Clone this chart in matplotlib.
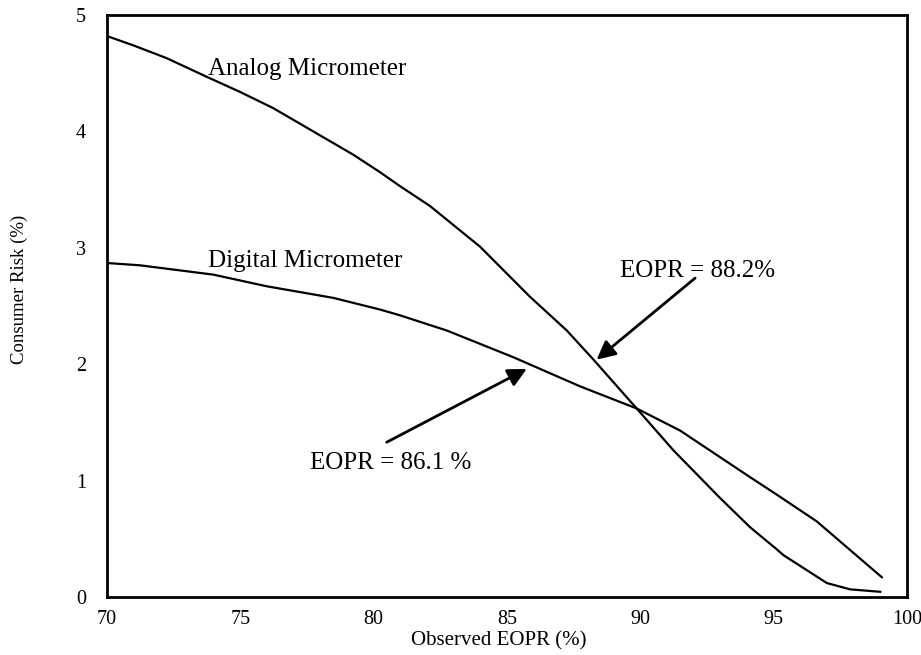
import matplotlib
matplotlib.use('Agg')
import matplotlib.pyplot as plt

plt.rcParams['font.family'] = ['Liberation Serif', 'DejaVu Serif']

# Observed EOPR (%) vs consumer risk (%)
analog_x = [70.0, 70.99, 72.24, 73.74, 74.99, 76.24, 77.74, 79.24, 80.24, 80.99,
            82.11, 83.99, 85.86, 87.24, 88.24, 89.86, 91.24, 92.99, 94.11, 95.11,
            95.36, 96.99, 97.86, 98.99]
analog_y = [4.82, 4.74, 4.63, 4.47, 4.34, 4.20, 4.00, 3.80, 3.65, 3.53,
            3.36, 3.01, 2.58, 2.29, 2.04, 1.62, 1.26, 0.85, 0.60, 0.41,
            0.36, 0.12, 0.066, 0.045]

digital_x = [70.0, 71.24, 73.99, 75.99, 78.49, 80.24, 80.99, 82.74, 85.24, 87.74,
             89.86, 91.49, 94.11, 95.11, 96.61, 99.05]
digital_y = [2.87, 2.85, 2.77, 2.67, 2.57, 2.47, 2.42, 2.29, 2.06, 1.81,
             1.62, 1.43, 1.03, 0.88, 0.65, 0.17]

x_ticks = [70, 75, 80, 85, 90, 95, 100]
y_ticks = [0, 1, 2, 3, 4, 5]

fig = plt.figure(figsize=(9.21, 6.55), dpi=100)
ax = fig.add_axes([0.116, 0.0885, 0.869, 0.8885])

ax.plot(analog_x, analog_y, color='black', linewidth=1.6)
ax.plot(digital_x, digital_y, color='black', linewidth=1.6)

ax.set_xlim(70, 100)
ax.set_ylim(0, 5)
ax.set_xticks(x_ticks)
ax.set_yticks(y_ticks)
ax.tick_params(axis='both', length=0, labelsize=14.5)
ax.tick_params(axis='x', pad=9)
ax.tick_params(axis='y', pad=15)
for s in ax.spines.values():
    s.set_linewidth(2)

ax.set_xlabel('Observed EOPR (%)', fontsize=15, va='center')
ax.set_ylabel('Consumer Risk (%)', fontsize=13.5, va='center')
ax.xaxis.set_label_coords(0.49, -0.0756)
ax.yaxis.set_label_coords(-0.109, 0.529)

ax.text(73.8, 4.484, 'Analog Micrometer', fontsize=18, va='baseline')
ax.text(73.8, 2.838, 'Digital Micrometer', fontsize=18, va='baseline')

arrow = dict(arrowstyle='-|>', color='black', lw=2, mutation_scale=28,
             shrinkA=0, shrinkB=0)
ax.annotate('', xy=(88.36, 2.04), xytext=(92.05, 2.74), arrowprops=arrow)
ax.annotate('', xy=(85.74, 1.96), xytext=(80.49, 1.33), arrowprops=arrow)
ax.text(89.24, 2.75, 'EOPR = 88.2%', fontsize=18, va='baseline')
ax.text(77.61, 1.097, 'EOPR = 86.1 %', fontsize=18, va='baseline')

fig.savefig('out.png', dpi=100)
